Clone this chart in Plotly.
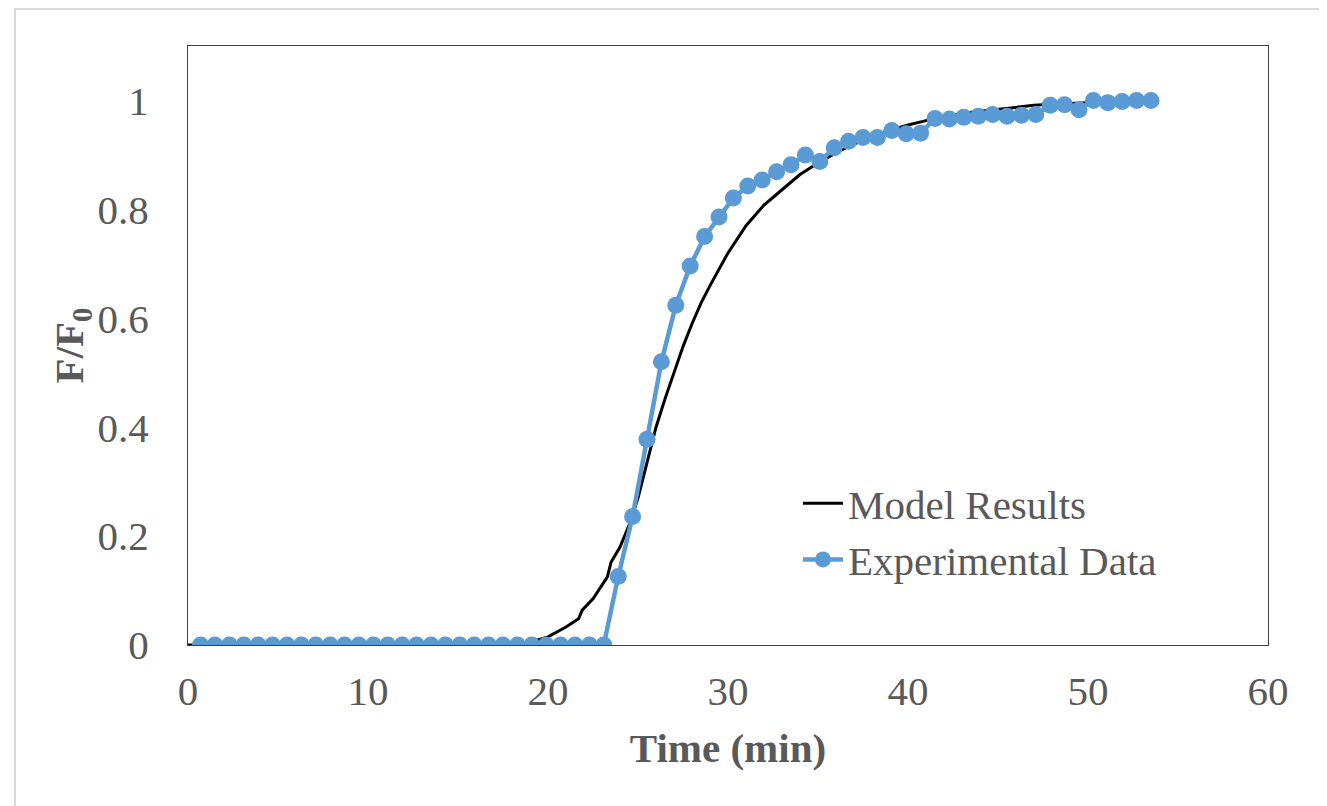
import plotly.graph_objects as go

# Model results (time in min, F/F0)
model_t = [0, 5, 10, 15, 18, 19, 20, 21, 21.7, 21.9, 22.5, 23.0, 23.3, 23.5, 24, 24.5, 25, 25.5,
           26, 26.5, 27, 27.5, 28, 28.5, 29, 30, 31, 32, 33, 34, 35, 36, 37, 38, 39, 40, 41,
           42, 43, 44, 45, 46, 47, 48, 49, 50, 51, 52, 53, 53.5]
model_f = [0, 0, 0, 0, 0.001, 0.005, 0.015, 0.033, 0.048, 0.064, 0.085, 0.11, 0.125, 0.152, 0.18,
           0.22, 0.27, 0.335, 0.40, 0.452, 0.50, 0.548, 0.59, 0.628, 0.66, 0.72, 0.77, 0.808,
           0.836, 0.864, 0.885, 0.904, 0.92, 0.934, 0.945, 0.955, 0.963, 0.970, 0.976, 0.980,
           0.984, 0.988, 0.991, 0.993, 0.995, 0.996, 0.997, 0.998, 0.999, 0.999]

# Experimental data
exp_t = [0.7, 1.5, 2.3, 3.1, 3.9, 4.7, 5.5, 6.3, 7.1, 7.9, 8.7, 9.5, 10.3, 11.1, 11.9, 12.7,
         13.5, 14.3, 15.1, 15.9, 16.7, 17.5, 18.3, 19.1, 19.9, 20.7, 21.5, 22.3, 23.1,
         23.9, 24.7, 25.5, 26.3, 27.1, 27.9, 28.7, 29.5, 30.3, 31.1, 31.9, 32.7, 33.5, 34.3,
         35.1, 35.9, 36.7, 37.5, 38.3, 39.1, 39.9, 40.7, 41.5, 42.3, 43.1, 43.9, 44.7, 45.5,
         46.3, 47.1, 47.9, 48.7, 49.5, 50.3, 51.1, 51.9, 52.7, 53.5]
exp_f = [0] * 29 + [
    0.126, 0.236, 0.378, 0.52, 0.624, 0.696, 0.75, 0.786, 0.821, 0.843, 0.854, 0.869, 0.882,
    0.900, 0.888, 0.913, 0.925, 0.932, 0.932, 0.945, 0.939, 0.940, 0.967, 0.966, 0.969,
    0.971, 0.974, 0.971, 0.973, 0.974, 0.991, 0.992, 0.983, 1.0, 0.996, 0.998, 1.0, 1.0]

x_ticks = [0, 10, 20, 30, 40, 50, 60]
y_ticks = [0, 0.2, 0.4, 0.6, 0.8, 1]
y_tick_text = ["0", "0.2", "0.4", "0.6", "0.8", "1"]

FONT = "Liberation Serif, Times New Roman, serif"
GRAY = "#595959"
BLUE = "#5B9BD5"
FS = 41

fig = go.Figure()
fig.add_trace(go.Scatter(x=model_t, y=model_f, mode="lines", name="Model Results",
                         line=dict(color="black", width=3)))
fig.add_trace(go.Scatter(x=exp_t, y=exp_f, mode="lines+markers", name="Experimental Data",
                         line=dict(color=BLUE, width=4.5),
                         marker=dict(color=BLUE, size=17, symbol="circle")))

# Figure div sits at an 8px page offset; work in div pixels
W, H = 1327, 806
L, R, T, B = 180, 67, 38, 169
pw, ph = W - L - R, H - T - B

def px(x):
    return (x - L) / pw

def py(y):
    return (H - B - y) / ph

fig.add_shape(type="rect", xref="paper", yref="paper",
              x0=px(7), x1=px(1312), y0=py(830), y1=py(1),
              line=dict(color="#D9D9D9", width=2), fillcolor="rgba(0,0,0,0)", layer="below")

fig.update_layout(
    width=W, height=H,
    margin=dict(l=L, r=R, t=T, b=B),
    paper_bgcolor="white", plot_bgcolor="white",
    font=dict(family=FONT, color=GRAY, size=FS),
    showlegend=True,
    legend=dict(x=px(790), y=py(462), xanchor="left", yanchor="top",
                bgcolor="rgba(0,0,0,0)", font=dict(size=FS, color=GRAY, family=FONT),
                itemwidth=40, tracegroupgap=0),
    xaxis=dict(range=[0, 60], tickvals=x_ticks, showgrid=False, zeroline=False,
               showline=True, linecolor="#404040", linewidth=1, mirror=True,
               ticks="", ticklabelstandoff=10,
               tickfont=dict(size=FS, color=GRAY, family=FONT),
               title=dict(text="<b>Time (min)</b>", standoff=20,
                          font=dict(size=FS, color=GRAY, family=FONT))),
    yaxis=dict(range=[0, 1.1], tickvals=y_ticks, ticktext=y_tick_text, showgrid=False,
               zeroline=False, showline=True, linecolor="#404040", linewidth=1, mirror=True,
               ticks="", ticklabelstandoff=30,
               tickfont=dict(size=FS, color=GRAY, family=FONT),
               title=dict(text="<b>F/F<sub>0</sub></b>", standoff=0,
                          font=dict(size=FS, color=GRAY, family=FONT))),
)

fig.write_html("out.html")
